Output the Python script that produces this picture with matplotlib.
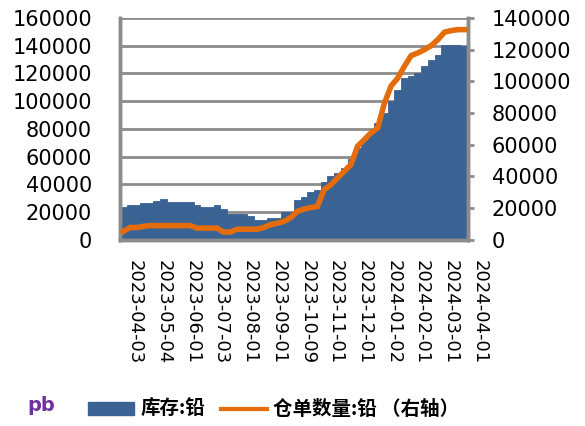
import matplotlib
matplotlib.use("Agg")
import matplotlib.pyplot as plt
import matplotlib.transforms as mtransforms
from matplotlib.patches import Patch
from matplotlib.lines import Line2D
import numpy as np

plt.rcParams['font.family'] = ['DejaVu Sans']

# weekly data, left axis: inventory (库存:铅)
stock = [24000, 25300, 25300, 26500, 26500, 28200, 29400, 27000, 27000, 27000,
         27000, 25300, 23600, 23600, 25300, 22100, 18500, 18500, 18500, 17300,
         14400, 14400, 15600, 15600, 20400, 20400, 28900, 30600, 34200, 35600,
         41400, 45700, 48000, 52000, 58000, 66000, 72000, 77000, 84200, 91400,
         99800, 108300, 116700, 118000, 120000, 125100, 130000, 133500, 140700, 140700,
         140700, 140000]
# right axis: warehouse receipts (仓单数量:铅)
receipts = [5300, 7800, 7800, 8500, 9000, 9000, 9000, 9000, 9000, 9000,
            9000, 7400, 7400, 7400, 7400, 4900, 4900, 6700, 6700, 6700,
            6700, 7800, 9500, 10500, 11600, 14000, 18000, 19400, 20400, 21000,
            31600, 34700, 39000, 43200, 47400, 59000, 63200, 67400, 70500, 86000,
            97000, 102000, 109500, 116200, 117900, 120000, 122500, 126300, 131000, 132000,
            132600, 132600]
date_labels = ['2023-04-03', '2023-05-04', '2023-06-01', '2023-07-03', '2023-08-01',
               '2023-09-01', '2023-10-09', '2023-11-01', '2023-12-01', '2024-01-02',
               '2024-02-01', '2024-03-01', '2024-04-01']

blue = '#3A6394'
orange = '#E46C0A'
grey = '#8C8C8C'

x = np.arange(len(stock))

fig = plt.figure(figsize=(5.85, 4.26), dpi=100)
ax = fig.add_axes([0.205, 0.437, 0.595, 0.521])
ax2 = ax.twinx()

ax.bar(x, stock, width=1.0, color=blue, edgecolor=blue, linewidth=0.6, zorder=2)
ax.set_ylim(0, 160000)
ax.set_yticks(np.arange(0, 160001, 20000))
ax.set_xlim(-0.5, len(stock) - 0.5)
ax.yaxis.grid(True, color=grey, linewidth=2, zorder=0)
ax.set_axisbelow(True)
ax.set_xticks([])
ax.tick_params(axis='y', length=0, labelsize=15, pad=20)

ax2.plot(x, receipts, color=orange, linewidth=4, solid_joinstyle='miter', zorder=3)
ax2.set_ylim(0, 140000)
ax2.set_yticks(np.arange(0, 140001, 20000))
ax2.tick_params(axis='y', length=4, width=2, color=grey, labelsize=15, pad=13)

for a in (ax, ax2):
    for s in a.spines.values():
        s.set_color(grey)
        s.set_linewidth(2.5)
    a.spines['top'].set_visible(False)

# month labels (the last one falls just past the plot edge)
trans = mtransforms.blended_transform_factory(ax.transData, ax.transAxes)
for i, lab in enumerate(date_labels):
    ax.text(1.74 + i * 4.29, -0.09, lab, transform=trans, rotation=-90,
            ha='center', va='top', fontsize=13, clip_on=False)

cjk = ['Noto Sans CJK SC', 'DejaVu Sans']
handles = [Patch(facecolor=blue, edgecolor=blue),
           Line2D([0], [0], color=orange, linewidth=3)]
fig.legend(handles, ['库存:铅', '仓单数量:铅 （右轴）'], ncol=2, frameon=False,
           loc='center', bbox_to_anchor=(0.4675, 0.038), handlelength=2.4,
           handleheight=0.7, columnspacing=0.8, handletextpad=0.3,
           prop={'family': cjk, 'weight': 'bold', 'size': 14})

fig.text(0.046, 0.048, 'pb', color='#7030A0', fontsize=14, fontweight='bold',
         ha='left', va='center')

fig.savefig('out.png', dpi=100)
